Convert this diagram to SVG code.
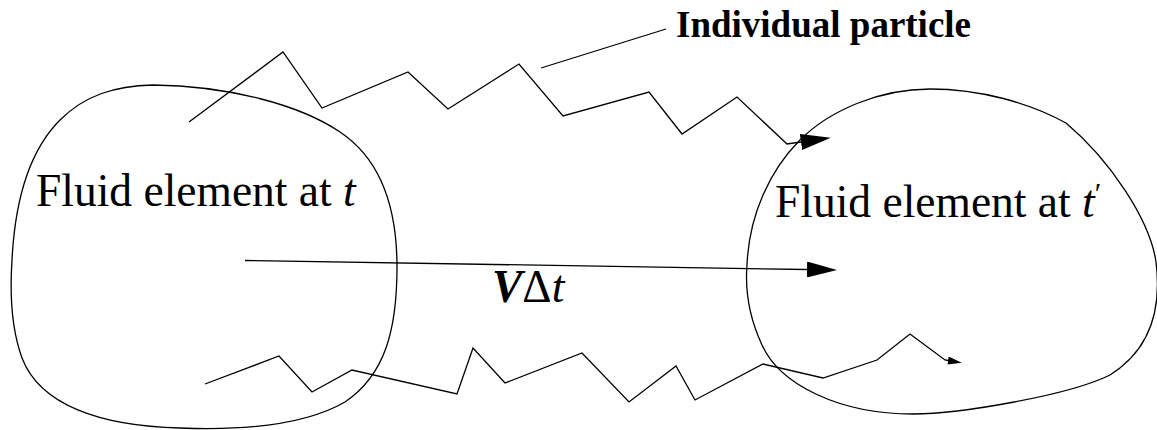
<svg xmlns="http://www.w3.org/2000/svg" width="1157" height="430" viewBox="0 0 1157 430">
<style>
.ln{fill:none;stroke:#000;stroke-width:1.3;stroke-linejoin:miter}
.tx{font-family:"Liberation Serif","Times New Roman",serif;fill:#000}
.big{font-size:45.5px}
.lab{font-size:37px;font-weight:bold}
.it{font-style:italic}
</style>
<defs>
<marker id="ahBig" viewBox="0 0 30 16" refX="0" refY="8" markerWidth="30" markerHeight="16" markerUnits="userSpaceOnUse" orient="auto">
<path d="M0,0 L30,8 L0,16 Z" fill="#000"/>
</marker>
<marker id="ahSmall" viewBox="0 0 14 8" refX="0" refY="4" markerWidth="14" markerHeight="8" markerUnits="userSpaceOnUse" orient="auto">
<path d="M0,0 L14,4 L0,8 Z" fill="#000"/>
</marker>
</defs>
<rect width="1157" height="430" fill="#fff"/>
<g id="element-t">
<path class="ln" d="M153,85 C230,86 300,105 340,132 C385,162 397,215 397,267 C397,330 385,375 345,402 C300,428 230,430 180,428 C100,426 40,405 22,358 C10,325 10,290 12,260 C15,200 30,150 60,120 C85,95 115,86 153,85 Z"/>
<text class="tx big" x="36" y="206">Fluid element at <tspan class="it">t</tspan></text>
</g>
<g id="element-tprime">
<path class="ln" d="M930,89 C980,89 1030,103 1066,123 C1110,160 1150,220 1156,262 C1162,310 1150,350 1110,375 C1070,395 960,414 913,414 C840,414 780,385 762,345 C748,315 745,290 747,265 C749,215 770,170 800,140 C830,110 880,89 930,89 Z"/>
<text class="tx big" x="775" y="217">Fluid element at <tspan class="it">t</tspan><tspan font-size="30" dy="-14">′</tspan></text>
</g>
<g id="label-particle">
<text class="tx lab" x="676" y="37">Individual particle</text>
</g>
<g id="label-vdt">
<text class="tx big" x="492" y="302" font-size="44"><tspan font-weight="bold" font-style="italic">V</tspan>Δ<tspan class="it">t</tspan></text>
</g>
<g id="connectors">
<polyline class="ln" marker-end="url(#ahBig)" points="189,122 283,52 322,108 408,72 448,109 519,64 563,116 649,92 682,134 737,97 787,144 801,142"/>
<polyline class="ln" marker-end="url(#ahSmall)" points="205,384 279,356 312,392 352,370 457,394 473,348 505,383 582,353 629,402 676,366 695,400 763,364 823,378 877,360 910,334 945,360 948,360.5"/>
<line class="ln" x1="245" y1="260.5" x2="807" y2="269.5" marker-end="url(#ahBig)"/>
<line class="ln" x1="541" y1="68" x2="666" y2="29"/>
</g>
</svg>
